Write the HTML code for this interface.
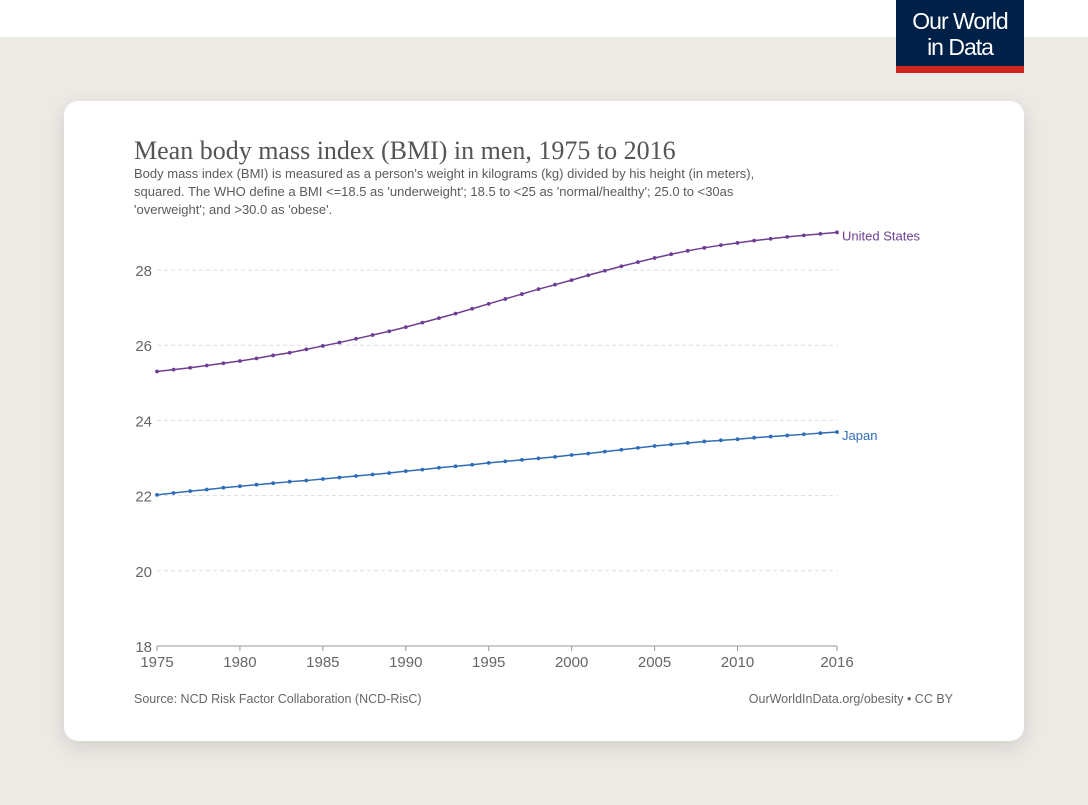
<!DOCTYPE html>
<html><head><meta charset="utf-8"><style>
body{margin:0;width:1088px;height:805px;background:#edeae5;position:relative;overflow:hidden;font-family:"Liberation Sans",sans-serif}
.top{position:absolute;left:0;top:0;width:1088px;height:37px;background:#fff}
.logo{position:absolute;left:896px;top:0;width:128px;height:73px;background:#002147;color:#fff;text-align:center;font-size:23px;line-height:26px;letter-spacing:-1px}
.logo .bar{position:absolute;left:0;bottom:0;width:100%;height:7px;background:#ce261e}
.card{position:absolute;left:64px;top:101px;width:960px;height:640px;background:#fff;border-radius:14px;box-shadow:0 6px 20px rgba(0,0,0,.12)}
</style></head><body>
<div class="top"></div>
<div class="logo"><div style="padding-top:8px">Our World<br>in Data</div><div class="bar"></div></div>
<div class="card"></div>
<svg id="chart" width="1088" height="805" style="position:absolute;left:0;top:0">
<text x="134" y="159" font-family="Liberation Serif,serif" font-size="26" fill="#555">Mean body mass index (BMI) in men, 1975 to 2016</text>
<g font-size="13" fill="#5b5b5b">
<text x="134" y="178">Body mass index (BMI) is measured as a person's weight in kilograms (kg) divided by his height (in meters),</text>
<text x="134" y="196">squared. The WHO define a BMI &lt;=18.5 as 'underweight'; 18.5 to &lt;25 as 'normal/healthy'; 25.0 to &lt;30as</text>
<text x="134" y="214">'overweight'; and &gt;30.0 as 'obese'.</text></g>
<text x="134" y="703" font-size="12.5" fill="#666">Source: NCD Risk Factor Collaboration (NCD-RisC)</text>
<text x="953" y="703" font-size="12.5" fill="#666" text-anchor="end">OurWorldInData.org/obesity • CC BY</text>
<g id="plot"></g>
</svg>
<script>
const years=[];for(let y=1975;y<=2016;y++)years.push(y);
const usValues=[25.30,25.35,25.40,25.46,25.52,25.58,25.65,25.73,25.80,25.89,25.98,26.07,26.17,26.27,26.37,26.48,26.60,26.72,26.84,26.97,27.10,27.23,27.36,27.49,27.61,27.73,27.86,27.98,28.10,28.21,28.32,28.42,28.51,28.59,28.66,28.72,28.78,28.83,28.88,28.92,28.96,29.00];
const japanValues=[22.02,22.07,22.12,22.16,22.21,22.25,22.29,22.33,22.37,22.40,22.44,22.48,22.52,22.56,22.60,22.65,22.69,22.74,22.78,22.82,22.87,22.91,22.95,22.99,23.03,23.08,23.12,23.17,23.22,23.27,23.32,23.36,23.40,23.44,23.47,23.50,23.54,23.57,23.60,23.63,23.66,23.69];
const yTicks=[18,20,22,24,26,28];
const xTicks=[1975,1980,1985,1990,1995,2000,2005,2010,2016];
const X=v=>157+(v-1975)*(680/41);
const Y=v=>646-(v-18)*37.6;
const g=document.getElementById('plot');const NS='http://www.w3.org/2000/svg';
function mk(t,a){const e=document.createElementNS(NS,t);for(const k in a)e.setAttribute(k,a[k]);g.appendChild(e);return e;}
yTicks.forEach(t=>{
 if(t>18){const l=mk('line',{x1:157,x2:837,y1:Y(t),y2:Y(t),stroke:'#ddd','stroke-dasharray':'4,3'});
 
 }
 const tx=mk('text',{x:152,y:Y(t)+6,'font-size':15,fill:'#666','text-anchor':'end'});tx.textContent=t;
 
 
});
const ax=mk('line',{x1:157,x2:837,y1:646,y2:646,stroke:'#999'});


xTicks.forEach(t=>{
 const tk=mk('line',{x1:X(t),x2:X(t),y1:646,y2:651,stroke:'#999'});
 
 
 const tx=mk('text',{x:X(t),y:667,'font-size':15,fill:'#666','text-anchor':'middle'});tx.textContent=t;
 
 
});
function series(vals,color,name,label){
 const p=mk('polyline',{points:vals.map((v,i)=>X(years[i])+','+Y(v)).join(' '),fill:'none',stroke:color,'stroke-width':1.5});
 
 
 vals.forEach((v,i)=>{const c=mk('circle',{cx:X(years[i]),cy:Y(v),r:1.9,fill:color});
  
  });
 const t=mk('text',{x:842,y:Y(vals[vals.length-1])+8,'font-size':13,fill:color});t.textContent=label;
 
 
}
series(usValues,'#6d3e91','united-states','United States');
series(japanValues,'#2e6db5','japan','Japan');
</script>
</body></html>
